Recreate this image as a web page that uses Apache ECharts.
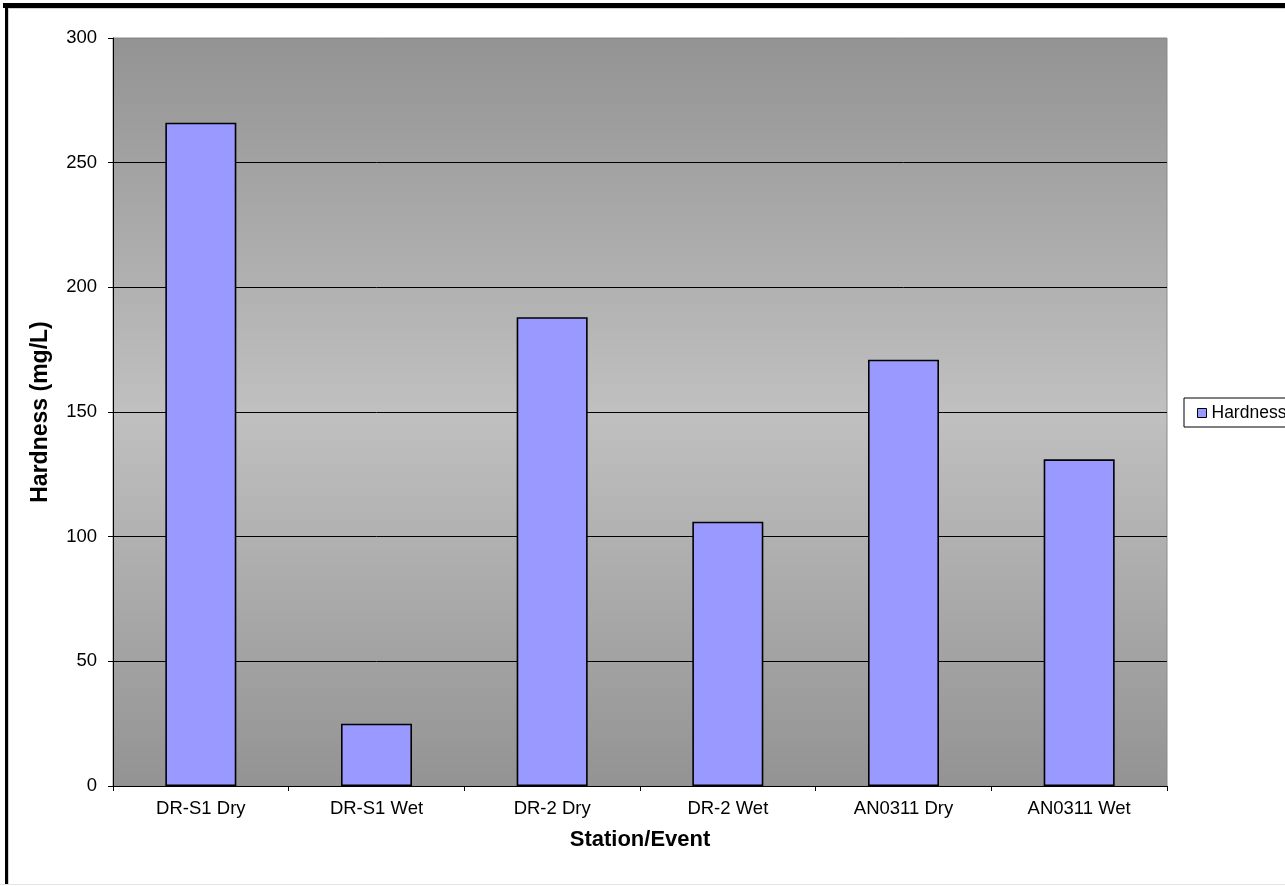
<!DOCTYPE html>
<html>
<head>
<meta charset="utf-8">
<title>Hardness by Station/Event</title>
<script src="https://cdn.jsdelivr.net/npm/echarts@6/dist/echarts.min.js"></script>
<style>
  html, body { margin: 0; padding: 0; background: #ffffff; }
  #chart { width: 1285px; height: 886px; }
</style>
</head>
<body>
<div id="chart"></div>
<script>
// Station/event categories and measured hardness (mg/L)
const categories = ['DR-S1 Dry', 'DR-S1 Wet', 'DR-2 Dry', 'DR-2 Wet', 'AN0311 Dry', 'AN0311 Wet'];
const hardness = [266, 25, 188, 106, 171, 131];
const seriesName = 'Hardness';
const yTicks = [0, 50, 100, 150, 200, 250, 300];

const FONT = '"Liberation Sans", Arial, sans-serif';

const chart = echarts.init(document.getElementById('chart'), null, { renderer: 'canvas' });

// grid lines are black except the top one, which sits on the grey plot border
const splitColors = yTicks.map((v, i) => (i === yTicks.length - 1 ? '#8a8a8a' : '#000000'));

chart.setOption({
  backgroundColor: '#ffffff',
  animation: false,
  textStyle: { fontFamily: FONT },
  grid: {
    left: 113, top: 38, right: 118, bottom: 100,
    show: true,
    borderColor: '#8a8a8a',
    borderWidth: 1,
    backgroundColor: {
      type: 'linear', x: 0, y: 0, x2: 0, y2: 1,
      colorStops: [
        { offset: 0, color: '#939393' },
        { offset: 0.5, color: '#c0c0c0' },
        { offset: 1, color: '#939393' }
      ]
    }
  },
  legend: {
    data: [seriesName],
    orient: 'vertical',
    left: 1184, top: 398,
    padding: [6, 10, 5, 13],
    backgroundColor: '#ffffff',
    borderColor: '#000000',
    borderWidth: 1,
    borderRadius: 0,
    icon: 'rect',
    itemWidth: 9, itemHeight: 9,
    itemStyle: { color: '#9999ff', borderColor: '#000000', borderWidth: 1 },
    textStyle: { fontFamily: FONT, fontSize: 17.5, color: '#000000' }
  },
  xAxis: {
    type: 'category',
    data: categories,
    name: 'Station/Event',
    nameLocation: 'middle',
    nameGap: 43,
    nameTextStyle: { fontFamily: FONT, fontSize: 22, fontWeight: 'bold', color: '#000000' },
    axisLine: { show: true, lineStyle: { color: '#000000', width: 1 } },
    axisTick: { show: true, alignWithLabel: false, length: 5, lineStyle: { color: '#000000' } },
    axisLabel: { fontFamily: FONT, fontSize: 18.5, color: '#000000', margin: 13 },
    splitLine: { show: false }
  },
  yAxis: {
    type: 'value',
    min: 0, max: 300, interval: 50,
    name: 'Hardness (mg/L)',
    nameLocation: 'middle',
    nameGap: 61,
    nameRotate: 90,
    nameTextStyle: { fontFamily: FONT, fontSize: 23, fontWeight: 'bold', color: '#000000' },
    axisLine: { show: true, lineStyle: { color: '#000000', width: 1 } },
    axisTick: { show: true, length: 5, lineStyle: { color: '#000000' } },
    axisLabel: { fontFamily: FONT, fontSize: 18.5, color: '#000000', margin: 16 },
    splitLine: { show: true, lineStyle: { color: splitColors, width: 1 } }
  },
  series: [{
    name: seriesName,
    type: 'bar',
    data: hardness,
    barWidth: 71,
    itemStyle: { color: '#9999ff', borderColor: '#000000', borderWidth: 1.6 },
    emphasis: { disabled: true }
  }],
  graphic: [
    // chart frame: heavy top rule, left rule, faint bottom rule
    { type: 'rect', shape: { x: 3, y: 3, width: 1282, height: 5 }, style: { fill: '#000000' }, z: 100 },
    { type: 'rect', shape: { x: 5, y: 3, width: 3, height: 881 }, style: { fill: '#000000' }, z: 100 },
    { type: 'rect', shape: { x: 8, y: 8, width: 1277, height: 1 }, style: { fill: '#d0d0d0' }, z: 100 },
    { type: 'rect', shape: { x: 8, y: 8, width: 1, height: 876 }, style: { fill: '#d0d0d0' }, z: 100 },
    { type: 'rect', shape: { x: 0, y: 884, width: 1285, height: 1 }, style: { fill: '#e4e4e4' }, z: 100 }
  ]
});
</script>
</body>
</html>
